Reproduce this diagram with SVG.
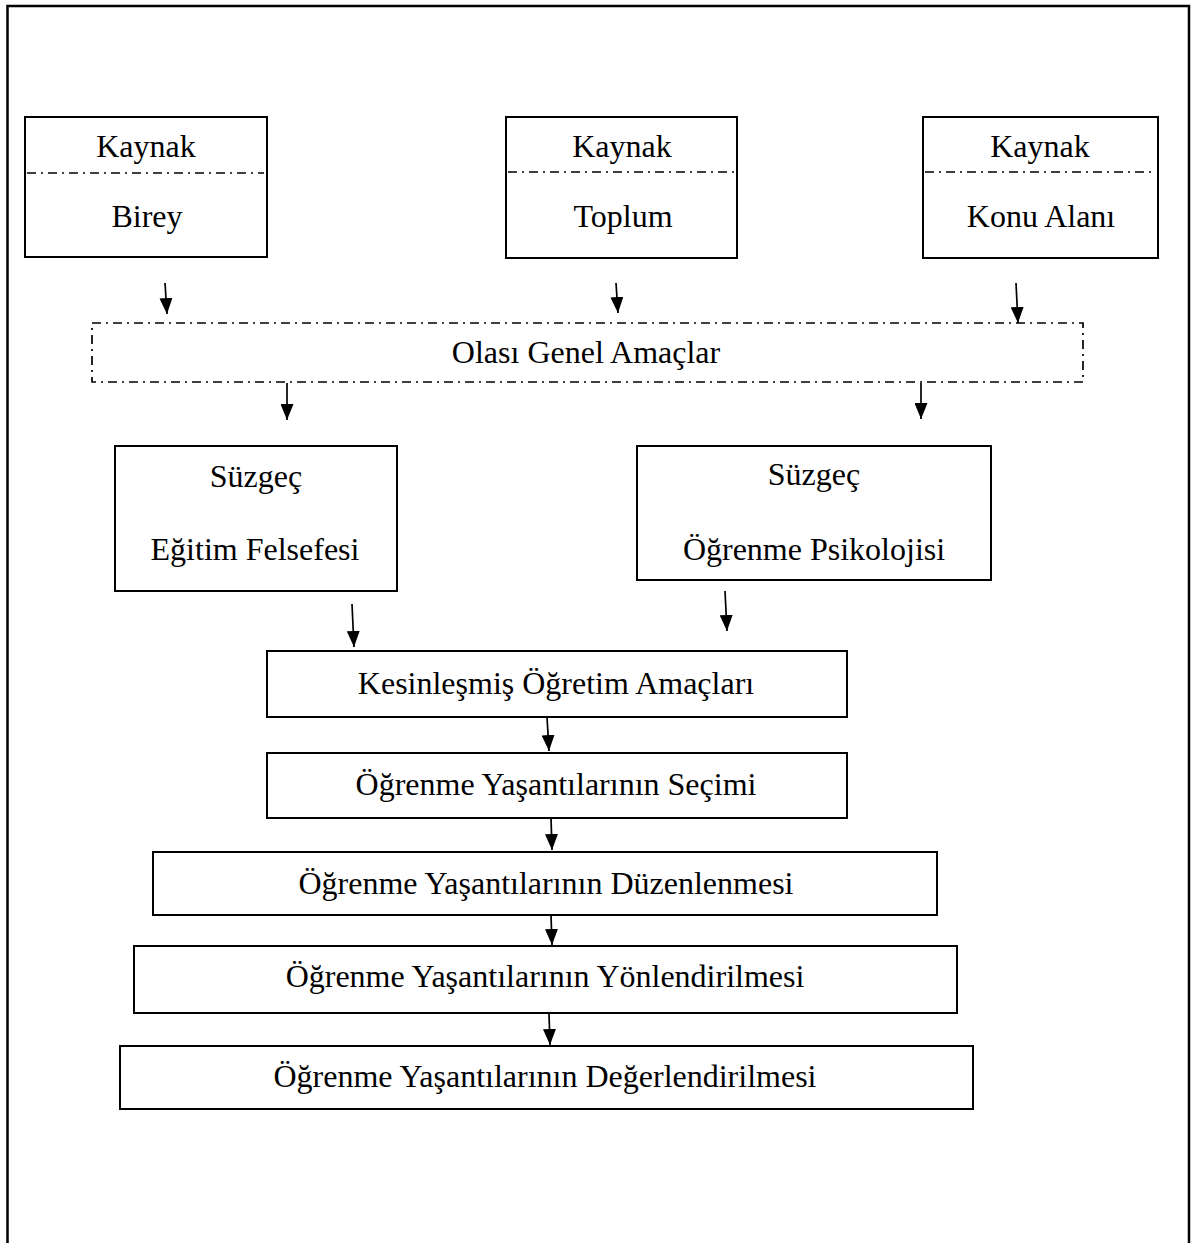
<svg xmlns="http://www.w3.org/2000/svg" width="1197" height="1243" viewBox="0 0 1197 1243">
<defs>
<style>
.box{fill:#fff;stroke:#000;stroke-width:2}
.dd{fill:none;stroke:#000;stroke-width:1.7;stroke-dasharray:9 5 2 5}
.t{font-family:"Liberation Serif","Times New Roman",serif;font-size:32px;fill:#000;text-anchor:middle}
.c{stroke:#000;stroke-width:1.7;fill:none;marker-end:url(#ah)}
</style>
<marker id="ah" markerUnits="userSpaceOnUse" markerWidth="16" markerHeight="13" refX="16" refY="6.5" orient="auto">
<path d="M0,0 L16,6.5 L0,13 z" fill="#000"/>
</marker>
</defs>
<rect width="1197" height="1243" fill="#fff"/>
<path d="M7.5,1243 V6 H1189 V1243" fill="none" stroke="#000" stroke-width="2.5"/>

<g id="kaynak-birey">
<rect class="box" x="25" y="117" width="242" height="140"/>
<line class="dd" x1="27" y1="173" x2="264" y2="173"/>
<text class="t" x="146" y="157">Kaynak</text>
<text class="t" x="147" y="227">Birey</text>
</g>
<g id="kaynak-toplum">
<rect class="box" x="506" y="117" width="231" height="141"/>
<line class="dd" x1="508" y1="172" x2="735" y2="172"/>
<text class="t" x="622" y="157">Kaynak</text>
<text class="t" x="623" y="227">Toplum</text>
</g>
<g id="kaynak-konu">
<rect class="box" x="923" y="117" width="235" height="141"/>
<line class="dd" x1="925" y1="172" x2="1156" y2="172"/>
<text class="t" x="1040" y="157">Kaynak</text>
<text class="t" x="1041" y="227">Konu Alanı</text>
</g>
<g id="olasi">
<rect class="dd" x="92" y="323" width="991" height="59"/>
<text class="t" x="586" y="363">Olası Genel Amaçlar</text>
</g>
<g id="suzgec-felsefe">
<rect class="box" x="115" y="446" width="282" height="145"/>
<text class="t" x="256" y="487">Süzgeç</text>
<text class="t" x="255" y="560">Eğitim Felsefesi</text>
</g>
<g id="suzgec-psikoloji">
<rect class="box" x="637" y="446" width="354" height="134"/>
<text class="t" x="814" y="485">Süzgeç</text>
<text class="t" x="814" y="560">Öğrenme Psikolojisi</text>
</g>
<g id="kesin">
<rect class="box" x="267" y="651" width="580" height="66"/>
<text class="t" x="556" y="694">Kesinleşmiş Öğretim Amaçları</text>
</g>
<g id="secimi">
<rect class="box" x="267" y="753" width="580" height="65"/>
<text class="t" x="556" y="795">Öğrenme Yaşantılarının Seçimi</text>
</g>
<g id="duzen">
<rect class="box" x="153" y="852" width="784" height="63"/>
<text class="t" x="546" y="894">Öğrenme Yaşantılarının Düzenlenmesi</text>
</g>
<g id="yon">
<rect class="box" x="134" y="946" width="823" height="67"/>
<text class="t" x="545" y="987">Öğrenme Yaşantılarının Yönlendirilmesi</text>
</g>
<g id="deger">
<rect class="box" x="120" y="1046" width="853" height="63"/>
<text class="t" x="545" y="1087">Öğrenme Yaşantılarının Değerlendirilmesi</text>
</g>

<g id="connectors">
<line class="c" x1="165" y1="283" x2="167" y2="314"/>
<line class="c" x1="616" y1="283" x2="618" y2="313"/>
<line class="c" x1="1016" y1="283" x2="1018" y2="323"/>
<line class="c" x1="287" y1="383" x2="287" y2="420"/>
<line class="c" x1="921" y1="383" x2="921" y2="419"/>
<line class="c" x1="352" y1="604" x2="354" y2="647"/>
<line class="c" x1="725" y1="591" x2="727" y2="631"/>
<line class="c" x1="547" y1="717" x2="549" y2="751"/>
<line class="c" x1="551" y1="818" x2="552" y2="850"/>
<line class="c" x1="551" y1="915" x2="552" y2="945"/>
<line class="c" x1="549" y1="1014" x2="550" y2="1045"/>
</g>
</svg>
